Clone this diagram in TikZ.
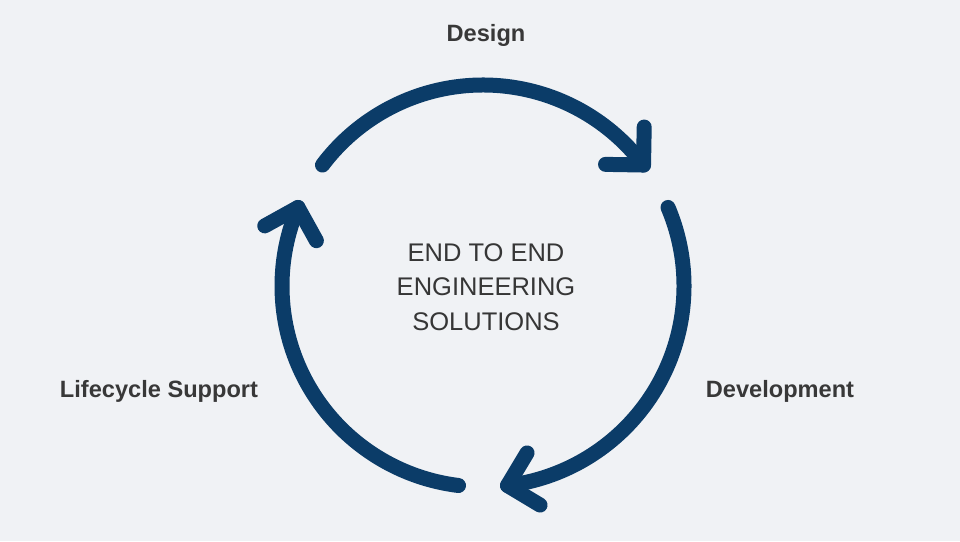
\documentclass[tikz,border=0pt]{standalone}
\usepackage{fontspec}
\setmainfont{Liberation Sans}
\usetikzlibrary{calc}
\definecolor{bgc}{HTML}{F0F2F5}
\definecolor{arcc}{HTML}{0B3C68}
\definecolor{txtc}{HTML}{383838}
\definecolor{ctxt}{HTML}{363636}
\tikzset{
  cyclearc/.style={draw=arcc, line width=15pt, line cap=round, line join=round},
  steplabel/.style={text=txtc, font=\bfseries\fontsize{23.6}{28}\selectfont, inner sep=0pt},
  centertext/.style={text=ctxt, font=\fontsize{25.5}{34.5}\selectfont, align=center, inner sep=0pt}
}
\begin{document}
\begin{tikzpicture}[x=1pt,y=1pt]
\fill[bgc] (0,0) rectangle (960,541);
\useasboundingbox (0,0) rectangle (960,541);
\coordinate (C) at (483,255);
\def\R{201}
\def\AL{38}
\foreach \s/\e [count=\i] in {143/37, 23/-83, -97/-203}{
  \coordinate (S\i) at ($(C)+(\s:\R)$);
  \coordinate (T\i) at ($(C)+(\e:\R)$);
  \draw[cyclearc] (S\i) arc[start angle=\s, end angle=\e, radius=\R];
  \pgfmathsetmacro{\aa}{\e+97+45}
  \pgfmathsetmacro{\ab}{\e+97-45}
  \draw[cyclearc] ($(T\i)+(\aa:\AL)$) -- (T\i) -- ($(T\i)+(\ab:\AL)$);
}
\node[steplabel] (design) at (486,506) {Design};
\node[steplabel] (dev) at (780,149.5) {Development};
\node[steplabel] (life) at (159,149.5) {Lifecycle Support};
\node[centertext] (center) at (486,254) {END TO END\\ENGINEERING\\SOLUTIONS};
\end{tikzpicture}
\end{document}
